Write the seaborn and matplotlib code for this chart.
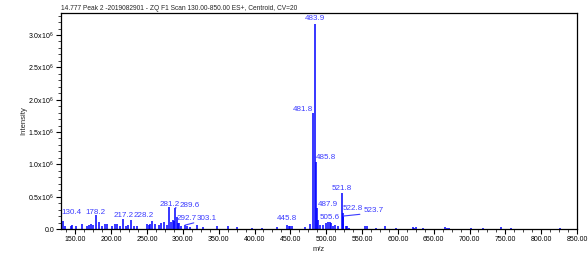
import matplotlib
matplotlib.use("Agg")
import matplotlib.pyplot as plt
import seaborn as sns
import pandas as pd
from matplotlib.ticker import MultipleLocator, FuncFormatter

# ---- data (m/z, intensity) ----
labeled_mz = [130.4, 178.2, 217.2, 228.2, 281.2, 289.6, 292.7, 303.1, 445.8,
              481.8, 483.9, 485.8, 487.9, 505.6, 521.8, 522.8, 523.7]
labeled_int = [0.15e6, 0.22e6, 0.155e6, 0.14e6, 0.335e6, 0.33e6, 0.10e6, 0.06e6, 0.06e6,
               1.79e6, 3.17e6, 1.04e6, 0.32e6, 0.11e6, 0.555e6, 0.25e6, 0.20e6]

minor_mz = [133.2, 135.0, 143.5, 146.0, 151.6, 158.8, 165.7, 169.4, 171.7, 175.0,
            183.3, 186.6, 191.2, 194.4, 200.5, 205.0, 207.5, 213.0, 220.5, 224.0,
            232.0, 236.7, 249.7, 252.5, 254.4, 257.2, 261.3, 266.4, 269.7, 274.3,
            277.5, 283.6, 286.0, 287.8, 291.4, 294.0, 297.0, 306.0, 310.0, 320.4,
            328.0, 347.0, 363.0, 376.0, 396.0, 410.0, 431.0, 448.0, 450.0, 452.0,
            470.0, 477.0, 489.0, 491.0, 496.0, 500.0, 503.0, 507.0, 510.0, 513.0,
            516.0, 527.0, 529.0, 532.0, 554.0, 557.0, 570.0, 582.0, 598.0, 620.5,
            623.0, 625.6, 635.0, 666.0, 669.0, 671.0, 702.0, 719.0, 744.0, 758.6,
            826.0]
minor_int = [0.12e6, 0.05e6, 0.05e6, 0.06e6, 0.05e6, 0.08e6, 0.05e6, 0.06e6, 0.08e6, 0.06e6,
             0.11e6, 0.05e6, 0.08e6, 0.08e6, 0.05e6, 0.08e6, 0.08e6, 0.05e6, 0.05e6, 0.06e6,
             0.05e6, 0.05e6, 0.07e6, 0.06e6, 0.08e6, 0.12e6, 0.07e6, 0.06e6, 0.09e6, 0.11e6,
             0.06e6, 0.11e6, 0.14e6, 0.12e6, 0.18e6, 0.10e6, 0.05e6, 0.05e6, 0.03e6, 0.06e6,
             0.03e6, 0.04e6, 0.05e6, 0.03e6, 0.02e6, 0.02e6, 0.03e6, 0.05e6, 0.05e6, 0.04e6,
             0.03e6, 0.08e6, 0.14e6, 0.06e6, 0.06e6, 0.09e6, 0.11e6, 0.09e6, 0.05e6, 0.06e6,
             0.05e6, 0.05e6, 0.05e6, 0.02e6, 0.05e6, 0.05e6, 0.02e6, 0.05e6, 0.02e6, 0.036e6,
             0.02e6, 0.036e6, 0.02e6, 0.036e6, 0.02e6, 0.02e6, 0.02e6, 0.02e6, 0.036e6, 0.02e6,
             0.02e6]

title = "14.777 Peak 2 -2019082901 - ZQ F1 Scan 130.00-850.00 ES+, Centroid, CV=20"

df = pd.DataFrame({"mz": labeled_mz + minor_mz, "intensity": labeled_int + minor_int})

# label placement: (dx px, dy px, ha, leader)
label_style = {
    130.4: (0, 5.3, "left", False),
    178.2: (0, 0.8, "center", False),
    217.2: (0, 2, "center", False),
    228.2: (2, 2.9, "left", False),
    281.2: (0, 1.6, "center", False),
    289.6: (4, 0.7, "left", True),
    292.7: (-0.7, 2.8, "left", False),
    303.1: (12, 5.1, "left", True),
    445.8: (0, 5.1, "center", False),
    481.8: (-0.5, 2.2, "right", False),
    483.9: (0, 3.7, "center", False),
    485.8: (0, 3, "left", False),
    487.9: (0, 2.6, "left", False),
    505.6: (0, 2.9, "center", False),
    521.8: (0, 3.1, "center", False),
    522.8: (0, 3.1, "left", False),
    523.7: (20, 4.1, "left", True),
}

sns.set_theme(style="ticks")
plt.rcParams["font.family"] = ["Liberation Sans", "DejaVu Sans"]
plt.rcParams["mathtext.fontset"] = "custom"
plt.rcParams["mathtext.rm"] = "Liberation Sans"

fig = plt.figure(figsize=(5.88, 2.69), dpi=100)
ax = fig.add_axes([61 / 588, 1 - 229 / 269, (577 - 61) / 588, (229 - 13) / 269])

ax.vlines(df["mz"], 0, df["intensity"], color="#0000ff", linewidth=1.1)

px = 0.72  # points per pixel
for mz, val in zip(labeled_mz, labeled_int):
    dx, dy, ha, leader = label_style[mz]
    kw = {}
    if leader:
        kw["arrowprops"] = dict(arrowstyle="-", color="#3b3bff", lw=0.8,
                                shrinkA=0, shrinkB=0, relpos=(0, 0))
    ax.annotate(f"{mz:.1f}", xy=(mz, val), xytext=(dx * px, dy * px),
                textcoords="offset points", ha=ha, va="baseline",
                color="#3b3bff", fontsize=5.8, **kw)

ax.set_xlim(130, 850)
ax.set_ylim(0, 3.34e6)

ax.xaxis.set_major_locator(MultipleLocator(50))
ax.xaxis.set_minor_locator(MultipleLocator(12.5))
ax.yaxis.set_major_locator(MultipleLocator(0.5e6))
ax.yaxis.set_minor_locator(MultipleLocator(0.1e6))

def xfmt(v, pos):
    return "" if v < 149 else f"{v:.2f}"

def yfmt(v, pos):
    if abs(v) < 1:
        return "0.0"
    return f"{v / 1e6:.1f}x10$^{{6}}$"

ax.xaxis.set_major_formatter(FuncFormatter(xfmt))
ax.yaxis.set_major_formatter(FuncFormatter(yfmt))

ax.tick_params(axis="both", which="major", length=3.5, width=0.8, labelsize=5, pad=1.5,
               colors="black", direction="out")
ax.tick_params(axis="both", which="minor", length=2, width=0.6, direction="out")

for s in ax.spines.values():
    s.set_visible(True)
    s.set_linewidth(0.9)
    s.set_color("black")

ax.set_xlabel("m/z", fontsize=5.5, labelpad=2)
ax.set_ylabel("Intensity", fontsize=5.5, labelpad=1)
fig.text(61 / 588, 1 - 8 / 269, title, fontsize=4.8, ha="left", va="center")

fig.savefig("out.png", dpi=100)
